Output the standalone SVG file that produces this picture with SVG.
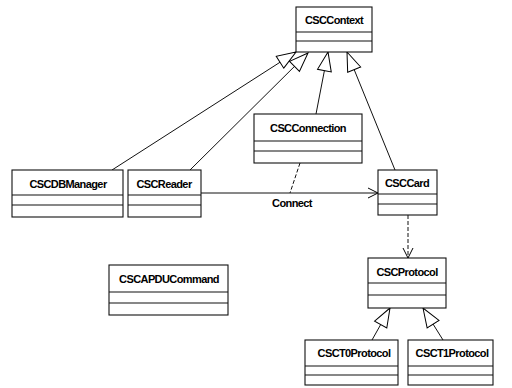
<svg xmlns="http://www.w3.org/2000/svg" width="512" height="388" viewBox="0 0 512 388">
<defs>
<marker id="gen" viewBox="-20 -9 22 18" refX="0" refY="0" markerWidth="22" markerHeight="18" markerUnits="userSpaceOnUse" orient="auto">
<path d="M0,0 L-19,-7 L-19,7 Z" fill="#fff" stroke="#000" stroke-width="1"/>
</marker>
<marker id="open" viewBox="-11 -7 12 14" refX="0" refY="0" markerWidth="12" markerHeight="14" markerUnits="userSpaceOnUse" orient="auto">
<path d="M-10,-5 L0,0 L-10,5" fill="none" stroke="#000" stroke-width="1"/>
</marker>
</defs>
<style>
.box{fill:#fff;stroke:#111;stroke-width:1.1}
.div{stroke:#111;stroke-width:1.1}
.t{font-family:"Liberation Sans",Arial,sans-serif;font-size:11px;font-weight:bold;fill:#000;text-anchor:middle;letter-spacing:-0.6px}
.ln{fill:none;stroke:#111;stroke-width:1}
.dash{fill:none;stroke:#111;stroke-width:1;stroke-dasharray:4,2}
</style>
<rect width="512" height="388" fill="#fff"/>
<g id="connectors">
<line class="ln" x1="112" y1="170" x2="296" y2="52" marker-end="url(#gen)"/>
<line class="ln" x1="190" y1="170" x2="308" y2="53" marker-end="url(#gen)"/>
<line class="ln" x1="316" y1="114" x2="328" y2="52" marker-end="url(#gen)"/>
<line class="ln" x1="395" y1="170" x2="347" y2="52" marker-end="url(#gen)"/>
<line class="ln" x1="201" y1="193" x2="378" y2="193" marker-end="url(#open)"/>
<line class="dash" x1="300" y1="163" x2="290" y2="193"/>
<line class="dash" x1="408" y1="215" x2="408" y2="258" marker-end="url(#open)"/>
<line class="ln" x1="372" y1="340" x2="390" y2="308" marker-end="url(#gen)"/>
<line class="ln" x1="443" y1="340" x2="423" y2="308" marker-end="url(#gen)"/>
<text class="t" x="292" y="207">Connect</text>
</g>
<g id="CSCContext">
<rect class="box" x="296" y="7" width="76" height="45"/>
<line class="div" x1="296" y1="32" x2="372" y2="32"/>
<line class="div" x1="296" y1="41" x2="372" y2="41"/>
<text class="t" x="334" y="24">CSCContext</text>
</g>
<g id="CSCConnection">
<rect class="box" x="254" y="114" width="108" height="49"/>
<line class="div" x1="254" y1="141" x2="362" y2="141"/>
<line class="div" x1="254" y1="151" x2="362" y2="151"/>
<text class="t" x="308" y="132">CSCConnection</text>
</g>
<g id="CSCDBManager">
<rect class="box" x="12" y="170" width="111" height="47"/>
<line class="div" x1="12" y1="195" x2="123" y2="195"/>
<line class="div" x1="12" y1="205" x2="123" y2="205"/>
<text class="t" x="68" y="188">CSCDBManager</text>
</g>
<g id="CSCReader">
<rect class="box" x="128" y="170" width="73" height="47"/>
<line class="div" x1="128" y1="195" x2="201" y2="195"/>
<line class="div" x1="128" y1="205" x2="201" y2="205"/>
<text class="t" x="164" y="188">CSCReader</text>
</g>
<g id="CSCCard">
<rect class="box" x="378" y="170" width="59" height="45"/>
<line class="div" x1="378" y1="194" x2="437" y2="194"/>
<line class="div" x1="378" y1="204" x2="437" y2="204"/>
<text class="t" x="407" y="187">CSCCard</text>
</g>
<g id="CSCAPDUCommand">
<rect class="box" x="109" y="265" width="119" height="50"/>
<line class="div" x1="109" y1="292" x2="228" y2="292"/>
<line class="div" x1="109" y1="303" x2="228" y2="303"/>
<text class="t" x="169" y="283">CSCAPDUCommand</text>
</g>
<g id="CSCProtocol">
<rect class="box" x="368" y="258" width="78" height="50"/>
<line class="div" x1="368" y1="283" x2="446" y2="283"/>
<line class="div" x1="368" y1="295" x2="446" y2="295"/>
<text class="t" x="407" y="276">CSCProtocol</text>
</g>
<g id="CSCT0Protocol">
<rect class="box" x="305" y="340" width="93" height="45"/>
<line class="div" x1="305" y1="366" x2="398" y2="366"/>
<line class="div" x1="305" y1="375" x2="398" y2="375"/>
<text class="t" x="354" y="357">CSCT0Protocol</text>
</g>
<g id="CSCT1Protocol">
<rect class="box" x="408" y="340" width="85" height="45"/>
<line class="div" x1="408" y1="366" x2="493" y2="366"/>
<line class="div" x1="408" y1="375" x2="493" y2="375"/>
<text class="t" x="452" y="357">CSCT1Protocol</text>
</g>
</svg>
